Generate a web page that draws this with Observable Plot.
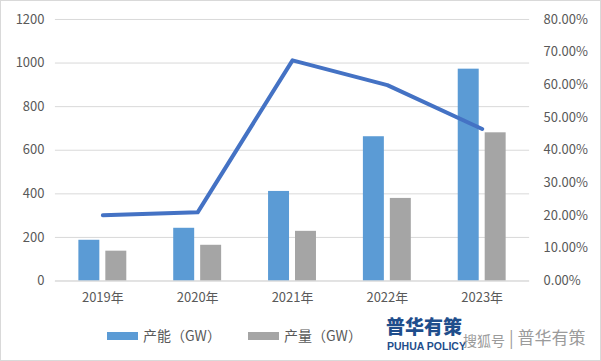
<!DOCTYPE html>
<html>
<head>
<meta charset="utf-8">
<script src="https://cdn.jsdelivr.net/npm/d3@7"></script>
<script src="https://cdn.jsdelivr.net/npm/@observablehq/plot@0.6"></script>
<style>
  html, body { margin: 0; padding: 0; background: #fff; }
  #wrap { position: relative; width: 601px; height: 361px; box-sizing: border-box; border: 1px solid #d9d9d9; overflow: hidden; font-family: "Noto Sans CJK SC", "Noto Sans", sans-serif; }
  #chart { position: absolute; left: -1px; top: -1px; }
  .lg { position: absolute; font-size: 14px; color: #595959; line-height: 16px; white-space: nowrap; }
  .sw { position: absolute; width: 31px; height: 8px; }
  .wm1 { position: absolute; left: 385px; top: 314px; font-size: 19px; font-weight: 900; color: #1f4e8c; line-height: 22px; }
  .wm2 { position: absolute; left: 386px; top: 339px; font-size: 10.5px; font-weight: 700; color: #1f4e8c; font-family: "Liberation Sans", Arial, sans-serif; line-height: 13px; }
  .wm3 { position: absolute; top: 326px; font-size: 17px; color: #8a8a8a; line-height: 20px; opacity: 0.85; white-space: nowrap; }
</style>
</head>
<body>
<div id="wrap">
  <div id="chart"></div>
  <div class="sw" style="left:106px;top:331px;background:#5b9bd5"></div>
  <div class="lg" style="left:142px;top:326px">产能（GW）</div>
  <div class="sw" style="left:247px;top:331px;background:#a5a5a5"></div>
  <div class="lg" style="left:283px;top:326px">产量（GW）</div>
  <div class="wm1">普华有策</div>
  <div class="wm2">PUHUA POLICY</div>
  <div class="wm3" style="left:462px;font-size:14px;top:329px">搜狐号</div>
  <div class="wm3" style="left:508px">| 普华有策</div>
</div>
<script>
const years = ["2019年", "2020年", "2021年", "2022年", "2023年"];
const capacity = [187, 242, 411, 662, 972];
const output = [137, 164, 228, 379, 680];
const rate = [20.1, 21.0, 67.5, 59.9, 46.5];
const leftTicks = [0, 200, 400, 600, 800, 1000, 1200];
const rightTicks = [0, 10, 20, 30, 40, 50, 60, 70, 80];
const leftMax = 1200, rightMax = 80;

const rows = years.map((y, i) => ({year: y, capacity: capacity[i], output: output[i], rate: rate[i], rateL: rate[i] / rightMax * leftMax}));

const chart = Plot.plot({
  width: 601,
  height: 315,
  marginLeft: 55,
  marginRight: 71,
  marginTop: 19,
  marginBottom: 34,
  style: {fontFamily: "'Noto Sans CJK SC', 'Noto Sans', sans-serif", fontSize: "13px", color: "#595959", background: "transparent"},
  x: {domain: years, padding: 0, label: null},
  y: {domain: [0, leftMax], label: null},
  marks: [
    Plot.gridY(leftTicks, {stroke: "#d9d9d9", strokeOpacity: 1, strokeWidth: 1}),
    Plot.axisY({ticks: leftTicks, tickSize: 0, tickPadding: 11, label: null, tickFormat: d => String(d)}),
    Plot.axisY({anchor: "right", ticks: rightTicks.map(p => p / rightMax * leftMax), tickSize: 0, tickPadding: 14, label: null, tickFormat: d => (d / leftMax * rightMax).toFixed(2) + "%"}),
    Plot.axisX({tickSize: 0, tickPadding: 12, label: null}),
    Plot.barY(rows, {x: "year", y: "capacity", fill: "#5b9bd5", insetLeft: 23.5, insetRight: 50.5}),
    Plot.barY(rows, {x: "year", y: "output", fill: "#a5a5a5", insetLeft: 50.5, insetRight: 23.5}),
    Plot.ruleY([0], {stroke: "#d9d9d9"}),
    Plot.line(rows, {x: "year", y: "rateL", stroke: "#4472c4", strokeWidth: 4, strokeLinejoin: "round", strokeLinecap: "round"})
  ]
});
document.getElementById("chart").appendChild(chart);
</script>
</body>
</html>
